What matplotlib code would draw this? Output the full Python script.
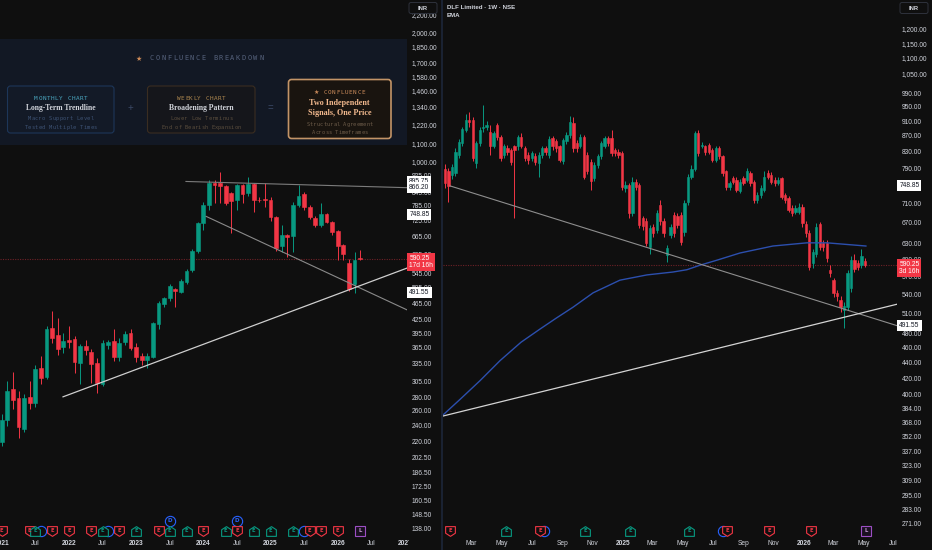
import numpy as np
import matplotlib
matplotlib.use('Agg')
import matplotlib.pyplot as plt
from matplotlib.patches import FancyBboxPatch, Rectangle
from matplotlib.path import Path
from matplotlib.ticker import NullLocator, NullFormatter

W, H = 932, 550
BG = '#0f0f0f'
UP = '#089981'
DN = '#f23645'
TXT = '#d1d4dc'
SANS = 'Liberation Sans'
MONO = 'DejaVu Sans Mono'
SERIF = 'Liberation Serif'

# ---------- monthly candles (left panel), month 0 = Jan 2021 ----------
m_open = [220, 247, 293, 278, 236, 280, 271, 327, 312, 407, 391, 366, 380, 383, 337, 368,
          357, 337, 301, 370, 378, 348, 376, 395, 367, 350, 342, 348, 415, 463, 478, 502,
          494, 521, 556, 617, 716, 789, 888, 886, 874, 840, 810, 878, 841, 883, 812, 815,
          810, 739, 632, 672, 667, 789, 837, 780, 736, 708, 751, 720, 686, 636, 577, 515, 592]
m_high = [255, 305, 320, 290, 284, 305, 333, 350, 410, 445, 430, 395, 410, 390, 372, 380,
          362, 345, 380, 380, 404, 385, 400, 405, 375, 356, 355, 420, 470, 480, 515, 505,
          530, 560, 623, 720, 800, 902, 905, 942, 880, 845, 885, 885, 917, 890, 825, 888,
          823, 745, 708, 675, 800, 878, 846, 790, 745, 797, 756, 725, 690, 640, 590, 612, 618]
m_low = [215, 240, 262, 224, 232, 262, 266, 300, 308, 375, 352, 355, 365, 318, 300, 352,
         302, 286, 298, 362, 340, 340, 370, 360, 338, 333, 328, 345, 405, 455, 470, 455,
         490, 515, 550, 610, 690, 770, 797, 797, 790, 678, 768, 797, 830, 760, 800, 780,
         725, 615, 612, 596, 612, 780, 770, 730, 700, 700, 715, 670, 586, 585, 495, 491, 585]
m_close = [247, 290, 275, 238, 278, 271, 326, 310, 404, 385, 363, 378, 377, 338, 368, 361,
           335, 302, 375, 377, 348, 375, 394, 365, 348, 342, 350, 418, 465, 478, 510, 495,
           524, 552, 615, 716, 789, 888, 878, 874, 797, 806, 878, 837, 883, 810, 810, 810,
           739, 626, 670, 665, 789, 829, 780, 739, 708, 751, 720, 682, 632, 606, 501, 586, 590.25]

# ---------- weekly candles (right panel), week 0 = 8 Jan 2024 ----------
w_open = [789, 782, 774, 778, 822, 851, 886, 913, 913, 801, 851, 890, 895, 881, 843, 900,
          868, 822, 838, 834, 843, 843, 868, 838, 822, 814, 818, 801, 822, 838, 822, 864,
          856, 843, 806, 856, 872, 904, 851, 843, 868, 822, 805, 766, 797, 818, 843, 864,
          864, 834, 830, 826, 744, 751, 690, 758, 751, 680, 673, 624, 662, 656, 706, 673,
          608, 646, 686, 683, 686, 652, 714, 770, 789, 879, 843, 843, 847, 834, 810, 838,
          818, 782, 746, 766, 762, 738, 766, 762, 778, 758, 718, 728, 740, 778, 774, 762,
          756, 766, 729, 721, 700, 693, 693, 702, 668, 649, 593, 611, 667, 630, 631, 582,
          564, 542, 532, 516, 521, 551, 600, 593, 590, 597]
w_high = [800, 790, 800, 838, 862, 895, 930, 935, 920, 856, 895, 955, 910, 900, 882, 905,
          872, 850, 848, 840, 848, 873, 878, 845, 830, 832, 826, 828, 845, 843, 870, 870,
          862, 848, 866, 880, 925, 920, 860, 875, 872, 830, 812, 805, 825, 856, 870, 870,
          885, 840, 836, 832, 760, 756, 768, 765, 756, 685, 680, 665, 668, 696, 718, 680,
          627, 668, 692, 690, 692, 718, 775, 797, 882, 886, 855, 848, 852, 840, 845, 845,
          822, 786, 760, 772, 768, 765, 772, 790, 782, 762, 735, 750, 784, 786, 780, 768,
          770, 770, 734, 727, 706, 706, 712, 710, 673, 655, 620, 670, 672, 636, 636, 590,
          568, 548, 537, 528, 582, 606, 611, 600, 620, 603]
w_low = [745, 713, 765, 772, 815, 845, 880, 895, 808, 790, 845, 880, 885, 822, 838, 860,
         806, 815, 822, 798, 680, 835, 838, 808, 800, 808, 798, 770, 815, 822, 815, 835,
         830, 805, 800, 850, 865, 830, 830, 838, 765, 775, 740, 760, 790, 812, 838, 845,
         820, 818, 815, 740, 735, 680, 685, 740, 660, 655, 625, 610, 643, 650, 665, 643,
         596, 640, 643, 660, 627, 645, 708, 765, 782, 820, 838, 822, 825, 805, 805, 812,
         772, 740, 740, 752, 735, 733, 750, 757, 748, 712, 712, 722, 735, 765, 752, 748,
         750, 720, 712, 692, 684, 688, 688, 662, 643, 582, 585, 605, 618, 615, 596, 570,
         536, 530, 513, 488, 515, 545, 578, 582, 585, 587]
w_close = [755, 749, 793, 830, 855, 888, 913, 908, 814, 851, 886, 895, 900, 843, 877, 868,
           814, 843, 830, 805, 834, 868, 843, 814, 810, 826, 805, 822, 838, 830, 862, 843,
           838, 810, 860, 872, 908, 838, 838, 868, 770, 782, 760, 797, 818, 851, 864, 851,
           826, 826, 822, 746, 751, 690, 758, 747, 666, 664, 630, 659, 649, 690, 673, 649,
           621, 662, 649, 666, 633, 711, 770, 789, 877, 826, 847, 830, 830, 810, 838, 818,
           778, 746, 755, 758, 740, 758, 756, 782, 755, 718, 728, 744, 770, 770, 758, 755,
           763, 725, 718, 697, 690, 700, 702, 669, 649, 587, 613, 662, 624, 624, 602, 576,
           542, 537, 521, 522, 576, 600, 584, 587, 606, 590.25]

# EMA (week index, price)
ema_week = [-0.6, 4.3, 10.1, 15.9, 21.9, 27.4, 32.0, 36.9, 42.7, 50.4, 58.2, 65.7, 69.7,
            73.5, 78.4, 85.0, 94.5, 104.3, 110.1, 113.8, 121.3]
ema_val = [376, 394, 417, 443, 468, 487, 503, 520, 543, 564, 573, 578, 582, 590, 599, 612,
           625, 631, 631, 629, 625]

w_start = np.datetime64('2024-01-08')

# trend lines: (x0, p0, x1, p1, colour, width)
left_lines = [(32.9, 895.75, 72.4, 866.20, '#7c7c7c', 0.8),
              (36.5, 742, 72.4, 448, '#8a8a8a', 0.8),
              (10.95, 280.4, 72.4, 561.6, '#cfcfcf', 0.9)]
right_lines = [(1.44, 748.85, 130.5, 491.55, '#8e8e8e', 0.8),
               (-0.58, 374.9, 130.5, 525.0, '#d4d4d4', 0.9)]
last_price = 590.25

left_yticks = [2200, 2000, 1850, 1700, 1580, 1460, 1340, 1220, 1100, 1000, 925, 845, 785, 725,
               665, 605, 545, 505, 465, 425, 395, 365, 335, 305, 280, 260, 240, 220, 202.5,
               186.5, 172.5, 160.5, 148.5, 138]
right_yticks = [1200, 1150, 1100, 1050, 990, 950, 910, 870, 830, 790, 710, 670, 630, 600, 570,
                540, 510, 480, 460, 440, 420, 400, 384, 368, 352, 337, 323, 309, 295, 283, 271]
left_xticks = list(range(0, 73, 6))
left_xlabels = ['2021', 'Jul', '2022', 'Jul', '2023', 'Jul', '2024', 'Jul', '2025', 'Jul',
                '2026', 'Jul', '2027']
right_tick_dates = ['2024-03-01', '2024-05-01', '2024-07-01', '2024-09-01', '2024-11-01',
                    '2025-01-01', '2025-03-01', '2025-05-01', '2025-07-01', '2025-09-01',
                    '2025-11-01', '2026-01-01', '2026-03-01', '2026-05-01', '2026-07-01']
right_xlabels = ['Mar', 'May', 'Jul', 'Sep', 'Nov', '2025', 'Mar', 'May', 'Jul', 'Sep', 'Nov',
                 '2026', 'Mar', 'May', 'Jul']

left_tags = [895.75, 866.20, 748.85, 491.55]
right_tags = [748.85, 491.55]

# events
left_e_red = [0, 5, 9, 12, 16, 21, 28, 36, 42, 55, 57, 60]
left_e_green = [6, 18, 24, 30, 33, 40, 45, 48, 52]
left_div_row = [7, 19, 54]
left_div_up = [30, 42]
left_split = [64]
right_e_red = [1.4, 27.4, 81.3, 93.4, 105.5]
right_e_green = [17.6, 40.3, 53.3, 70.3]
right_div_row = [28.5, 80.1]
right_div_up = []
right_split = [121.3]

SHIELD = Path([(-1, 1), (1, 1), (1, -0.35), (0, -1), (-1, -0.35), (-1, 1)],
              [1, 2, 2, 2, 2, 79])
HOUSE = Path([(-1, -1), (1, -1), (1, 0.35), (0, 1), (-1, 0.35), (-1, -1)],
             [1, 2, 2, 2, 2, 79])


def candles(ax, x, o, h, l, c, width):
    x = np.asarray(x, float)
    o, h, l, c = (np.asarray(v, float) for v in (o, h, l, c))
    col = np.where(c >= o, UP, DN)
    ax.vlines(x, l, h, colors=col, lw=0.7, zorder=3)
    ax.bar(x, np.abs(c - o), width, np.minimum(o, c), color=col, edgecolor=col,
           lw=0.4, zorder=4)


def style(ax, xlim, ylim, yticks, xticks, xlabels):
    ax.set_facecolor(BG)
    ax.set_yscale('log')
    ax.set_xlim(*xlim)
    ax.set_ylim(*ylim)
    for s in ax.spines.values():
        s.set_visible(False)
    ax.yaxis.tick_right()
    ax.set_yticks(yticks, [f'{v:,.2f}' for v in yticks])
    ax.yaxis.set_minor_locator(NullLocator())
    ax.yaxis.set_minor_formatter(NullFormatter())
    ax.set_xticks(xticks, xlabels)
    ax.tick_params(axis='y', length=0, pad=3.6, labelsize=4.8, labelcolor=TXT)
    ax.tick_params(axis='x', length=0, pad=2.2, labelsize=4.8, labelcolor=TXT)
    for lab in ax.get_yticklabels() + ax.get_xticklabels():
        lab.set_fontfamily(SANS)
    for lab in ax.get_xticklabels():
        if lab.get_text().isdigit():
            lab.set_fontweight('bold')


def events(ax, red, green, div_row, div_up, split):
    tr = ax.get_xaxis_transform()
    yr, yu = (537 - 531) / 537, (537 - 521) / 537
    for x in div_row:
        ax.plot(x, yr, 'o', ms=7.4, mfc=BG, mec='#2962ff', mew=0.8, transform=tr,
                clip_on=True, zorder=6)
    for x in div_up:
        ax.plot(x, yu, 'o', ms=7.4, mfc=BG, mec='#2962ff', mew=0.8, transform=tr,
                clip_on=True, zorder=6)
        ax.text(x, yu, 'D', color='#2962ff', fontsize=4, ha='center', va='center',
                transform=tr, fontweight='bold', zorder=7, clip_on=True)
    for xs, mk, colr in ((red, SHIELD, DN), (green, HOUSE, UP)):
        for x in xs:
            ax.plot(x, yr, marker=mk, ms=7.0, mfc=BG, mec=colr, mew=0.8, transform=tr,
                    clip_on=True, zorder=8)
            ax.text(x, yr, 'E', color=colr, fontsize=3.8, ha='center', va='center',
                    transform=tr, fontweight='bold', zorder=9, clip_on=True)
    for x in split:
        ax.plot(x, yr, 's', ms=6.6, mfc='#1a1020', mec='#9c4fc4', mew=0.8, transform=tr,
                clip_on=True, zorder=8)
        ax.text(x, yr, 'L', color='#c89ad8', fontsize=3.8, ha='center', va='center',
                transform=tr, fontweight='bold', zorder=9, clip_on=True)


def tags(ax, prices, last, countdown):
    tr = ax.get_yaxis_transform()
    for price in prices:
        ax.annotate(f'{price:.2f}', xy=(1, price), xycoords=tr, xytext=(1.6, 0),
                    textcoords='offset points', ha='left', va='center', fontsize=4.8,
                    family=SANS, color='#131722', annotation_clip=False, zorder=20,
                    bbox=dict(boxstyle='square,pad=0.3', fc='white', ec='none'))
    ax.annotate(f'{last:.2f}\n{countdown}', xy=(1, last), xycoords=tr, xytext=(1.6, 3.0),
                textcoords='offset points', ha='left', va='top', fontsize=4.8, family=SANS,
                color='white', linespacing=1.05, annotation_clip=False, zorder=20,
                bbox=dict(boxstyle='square,pad=0.3', fc=DN, ec='none'))


fig = plt.figure(figsize=(W / 100, H / 100), dpi=100, facecolor=BG)
axL = fig.add_axes([0, 13 / H, 407 / W, 537 / H])
axR = fig.add_axes([443 / W, 13 / H, 454 / W, 537 / H])

style(axL, (-0.304, 72.37), (131.66, 2383.5), left_yticks, left_xticks, left_xlabels)
r_pos = (np.array(right_tick_dates, dtype='datetime64[D]') - w_start) / np.timedelta64(7, 'D')
style(axR, (-0.576, 130.26), (260.6, 1309.4), right_yticks, r_pos, right_xlabels)

candles(axL, np.arange(len(m_close)), m_open, m_high, m_low, m_close, 0.66)
candles(axR, np.arange(len(w_close)), w_open, w_high, w_low, w_close, 0.66)
axR.plot(ema_week, ema_val, color='#2c4fae', lw=1.0, zorder=5)

for ax, lines in ((axL, left_lines), (axR, right_lines)):
    for x0, p0, x1, p1, colr, lw in lines:
        ax.plot([x0, x1], [p0, p1], color=colr, lw=lw, zorder=6)
    ax.axhline(last_price, color='#6e2127', lw=0.8, ls=(0, (1, 1.2)), zorder=2)

events(axL, left_e_red, left_e_green, left_div_row, left_div_up, left_split)
events(axR, right_e_red, right_e_green, right_div_row, right_div_up, right_split)
tags(axL, left_tags, last_price, '17d 16h')
tags(axR, right_tags, last_price, '3d 16h')

# ---------- overlay in pixel coordinates ----------
ov = fig.add_axes([0, 0, 1, 1])
ov.set_xlim(0, W)
ov.set_ylim(H, 0)
ov.axis('off')
ov.patch.set_alpha(0)
ov.set_zorder(10)

# price scale covers the end of the last time label
ov.add_patch(Rectangle((409, 538), 32, 12, fc=BG, ec='none'))
ov.plot([442, 442], [0, H], color='#1b2334', lw=1.4)
for x0 in (409, 900):
    ov.add_patch(FancyBboxPatch((x0, 2.5), 28, 11, boxstyle='round,pad=0,rounding_size=2',
                                fc=BG, ec='#2e323c', lw=0.7))
    ov.text(x0 + 14, 8.2, 'INR', color=TXT, fontsize=4.2, family=SANS, fontweight='bold',
            ha='center', va='center')
ov.text(447, 7.5, 'DLF Limited · 1W · NSE', color=TXT, fontsize=4.4, family=SANS,
        fontweight='bold', ha='left', va='center')
ov.text(447, 15.8, 'EMA', color=TXT, fontsize=4.4, family=SANS, fontweight='bold',
        ha='left', va='center')


def spaced(xc, y, s, pitch, **kw):
    x0 = xc - pitch * (len(s) - 1) / 2
    for k, ch in enumerate(s):
        if ch != ' ':
            ov.text(x0 + k * pitch, y, ch, ha='center', va='center', family=MONO, **kw)


ov.add_patch(Rectangle((0, 39), 407, 106, fc='#121824', ec='none'))
ov.text(139, 58.5, '★', color='#d08c58', fontsize=5, ha='center', va='center',
        family='DejaVu Sans')
spaced(206.5, 58.5, 'CONFLUENCE BREAKDOWN', 5.75, color='#56627c', fontsize=5)

cards = [
    (7.5, 86, 106.5, 47, '#131a27', '#1d3659', 0.8,
     [('MONTHLY CHART', 98.7, 'mono', '#4aa6bf', 4.15, 4.3),
      ('Long-Term Trendline', 108.5, 'serif', '#d2d5dc', 5.5, None),
      ('Macro Support Level', 118.5, 'mono', '#3d5274', 3.45, 3.9),
      ('Tested Multiple Times', 127.8, 'mono', '#3d5274', 3.45, 3.9)]),
    (147.5, 86, 107.5, 47, '#15161b', '#3a2d21', 0.8,
     [('WEEKLY CHART', 98.7, 'mono', '#ad874f', 4.15, 4.3),
      ('Broadening Pattern', 108.5, 'serif', '#d2d5dc', 5.5, None),
      ('Lower Low Terminus', 118.5, 'mono', '#5a4d3d', 3.45, 3.9),
      ('End of Bearish Expansion', 127.8, 'mono', '#5a4d3d', 3.3, 3.9)]),
    (288.5, 79.5, 102.5, 59, '#19140f', '#c39467', 1.2,
     [('CONFLUENCE', 92.3, 'mono', '#c98a5a', 4.2, 4.3),
      ('Two Independent', 103.3, 'serif', '#f2b98e', 5.9, None),
      ('Signals, One Price', 112.8, 'serif', '#f2b98e', 5.9, None),
      ('Structural Agreement', 124.3, 'mono', '#6b5a48', 3.3, 3.9),
      ('Across Timeframes', 132.7, 'mono', '#6b5a48', 3.3, 3.9)]),
]
for x0, y0, w, h, fc, ec, lw, rows in cards:
    ov.add_patch(FancyBboxPatch((x0, y0), w, h, boxstyle='round,pad=0,rounding_size=3',
                                fc=fc, ec=ec, lw=lw))
    xc = x0 + w / 2
    for text, y, kind, colr, a, b in rows:
        if kind == 'mono':
            shift = 4.5 if text == 'CONFLUENCE' else 0
            spaced(xc + shift, y, text, a, color=colr, fontsize=b)
        else:
            ov.text(xc, y, text, color=colr, fontsize=a, family=SERIF, fontweight='bold',
                    ha='center', va='center')
ov.text(316, 92.3, '★', color='#c98a5a', fontsize=4.3, ha='center', va='center',
        family='DejaVu Sans')
ov.text(130.7, 108, '+', color='#3b4866', fontsize=7, ha='center', va='center', family=SANS)
ov.text(270.7, 108, '=', color='#3b4866', fontsize=7, ha='center', va='center', family=SANS)

fig.savefig('out.png', dpi=100, facecolor=BG)
